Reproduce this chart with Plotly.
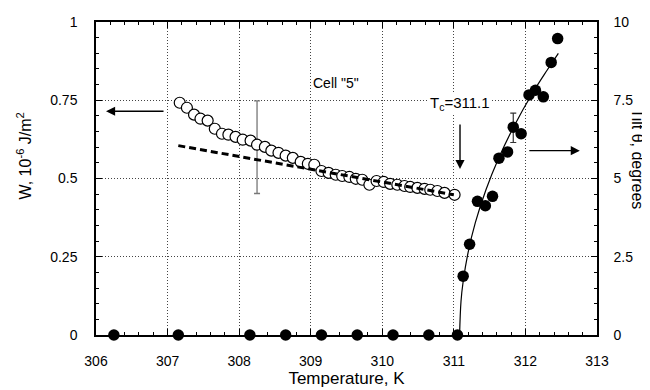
import plotly.graph_objects as go

# ---- data ----
T_open = [307.17, 307.27, 307.37, 307.46, 307.56, 307.66, 307.76, 307.85, 307.95, 308.05,
          308.16, 308.25, 308.36, 308.45, 308.55, 308.65, 308.75, 308.86, 308.96, 309.05,
          309.15, 309.25, 309.35, 309.44, 309.54, 309.63, 309.72, 309.82, 309.92, 310.02,
          310.11, 310.21, 310.31, 310.39, 310.49, 310.59, 310.67, 310.77, 310.87, 311.01]
W_open = [0.742, 0.726, 0.704, 0.691, 0.685, 0.659, 0.643, 0.640, 0.633, 0.624,
          0.621, 0.608, 0.601, 0.589, 0.582, 0.573, 0.566, 0.553, 0.547, 0.544,
          0.524, 0.518, 0.512, 0.508, 0.505, 0.499, 0.496, 0.480, 0.492, 0.489,
          0.483, 0.480, 0.476, 0.473, 0.470, 0.467, 0.464, 0.460, 0.454, 0.448]

T_dash = [307.15, 311.0]
W_dash = [0.605, 0.448]

T_werr = [308.25]
W_werr = [0.600]
W_err = [0.148]

T_fill = [306.25, 307.15, 308.15, 308.65, 309.15, 309.65, 310.15, 310.65, 311.05,
          311.13, 311.22, 311.33, 311.44, 311.54, 311.63, 311.75, 311.83, 311.94,
          312.05, 312.14, 312.25, 312.36, 312.45]
Theta_fill = [0, 0, 0, 0, 0, 0, 0, 0, 0,
              1.88, 2.90, 4.27, 4.13, 4.43, 5.65, 5.85, 6.64, 6.43,
              7.67, 7.82, 7.61, 8.71, 9.47]

T_terr = [311.83]
Theta_terr = [6.62]
Theta_err = [0.47]

T_fit = [311.08, 311.10, 311.13, 311.20, 311.30, 311.45, 311.63, 311.85, 312.10, 312.30, 312.46]
Theta_fit = [0, 1.08, 1.71, 2.65, 3.59, 4.65, 5.67, 6.71, 7.73, 8.45, 9.0]

x_ticks = [306, 307, 308, 309, 310, 311, 312, 313]
w_ticks = [0, 0.25, 0.5, 0.75, 1]
w_ticktext = ["0", "0.25", "0.5", "0.75", "1"]
th_ticks = [0, 2.5, 5, 7.5, 10]
th_ticktext = ["0", "2.5", "5", "7.5", "10"]

FONT = "Liberation Sans, Arial, Helvetica, sans-serif"
GRID = "1px,2px"

fig = go.Figure()

# W error bar
fig.add_trace(go.Scatter(x=T_werr, y=W_werr, mode="markers", marker=dict(size=1, color="rgba(0,0,0,0)"),
                         error_y=dict(type="data", array=W_err, color="#777", thickness=1.3, width=3),
                         showlegend=False, hoverinfo="skip"))
# open circles
fig.add_trace(go.Scatter(x=T_open, y=W_open, mode="markers",
                         marker=dict(size=11, color="white", line=dict(color="black", width=1.2)),
                         showlegend=False))
# dashed line
fig.add_trace(go.Scatter(x=T_dash, y=W_dash, mode="lines",
                         line=dict(color="black", width=3, dash="7px,4px"), showlegend=False))

# theta fit line
fig.add_trace(go.Scatter(x=T_fit, y=Theta_fit, mode="lines", yaxis="y2",
                         line=dict(color="black", width=1.2, shape="spline"), showlegend=False))
# theta error bar
fig.add_trace(go.Scatter(x=T_terr, y=Theta_terr, mode="markers", yaxis="y2",
                         marker=dict(size=1, color="rgba(0,0,0,0)"),
                         error_y=dict(type="data", array=Theta_err, color="#333", thickness=1.2, width=3),
                         showlegend=False, hoverinfo="skip"))
# filled circles
fig.add_trace(go.Scatter(x=T_fill, y=Theta_fill, mode="markers", yaxis="y2", cliponaxis=False,
                         marker=dict(size=11.5, color="black"), showlegend=False))

axis_common = dict(showline=True, linecolor="black", linewidth=1.5, ticks="inside",
                   tickcolor="black", tickwidth=1, zeroline=False, automargin=False,
                   tickfont=dict(family=FONT, size=14, color="black"))

fig.update_layout(
    width=650, height=390,
    margin=dict(l=88, r=61, t=14, b=63),
    paper_bgcolor="white", plot_bgcolor="white",
    font=dict(family=FONT, color="black"),
    xaxis=dict(range=[306, 313], tickvals=x_ticks, ticklen=6, mirror="ticks",
               showgrid=True, gridcolor="#444", griddash=GRID, gridwidth=1,
               minor=dict(dtick=0.2, ticks="inside", ticklen=3, tickcolor="black", showgrid=False),
               ticklabelstandoff=12,
               title=dict(text="Temperature, K", font=dict(family=FONT, size=17), standoff=4),
               **axis_common),
    yaxis=dict(range=[0, 1], tickvals=w_ticks, ticktext=w_ticktext, ticklen=6, mirror=True,
               showgrid=True, gridcolor="#444", griddash=GRID, gridwidth=1,
               minor=dict(dtick=0.05, ticks="inside", ticklen=3, tickcolor="black", showgrid=False),
               ticklabelstandoff=14,
               **axis_common),
    yaxis2=dict(range=[0, 10], tickvals=th_ticks, ticktext=th_ticktext, ticklen=6,
                overlaying="y", side="right", showgrid=False,
                minor=dict(dtick=0.5, ticks="inside", ticklen=3, tickcolor="black", showgrid=False),
                ticklabelstandoff=12,
                **axis_common),
    annotations=[
        dict(text="W, 10<sup>-6</sup> J/m<sup>2</sup>", xref="paper", yref="paper", x=0, y=0.5,
             xanchor="center", yanchor="middle", xshift=-72, yshift=22, textangle=-90,
             showarrow=False, font=dict(family=FONT, size=16)),
        dict(text="Tilt θ, degrees", xref="paper", yref="paper", x=1, y=0.5,
             xanchor="center", yanchor="middle", xshift=40, yshift=20, textangle=90,
             showarrow=False, font=dict(family=FONT, size=16)),
        dict(text="Cell \"5\"", xref="x", yref="y", x=309.35, y=0.805, showarrow=False,
             font=dict(family=FONT, size=14)),
        dict(text="T<sub>c</sub>=311.1", xref="x", yref="y", x=311.09, y=0.741, showarrow=False,
             bgcolor="white", font=dict(family=FONT, size=15)),
        # arrow pointing left (to W axis)
        dict(x=306.14, y=0.715, xref="x", yref="y", ax=59, ay=0, showarrow=True,
             arrowhead=2, arrowsize=1.3, arrowwidth=1.4, arrowcolor="black", text=""),
        # arrow pointing down to Tc
        dict(x=311.086, y=0.53, xref="x", yref="y", ax=0, ay=-46, showarrow=True,
             arrowhead=2, arrowsize=1.3, arrowwidth=1.4, arrowcolor="black", text=""),
        # arrow pointing right (to theta axis)
        dict(x=312.76, y=0.589, xref="x", yref="y", ax=-52, ay=0, showarrow=True,
             arrowhead=2, arrowsize=1.3, arrowwidth=1.4, arrowcolor="black", text=""),
    ],
)

fig.write_html("out.html")
